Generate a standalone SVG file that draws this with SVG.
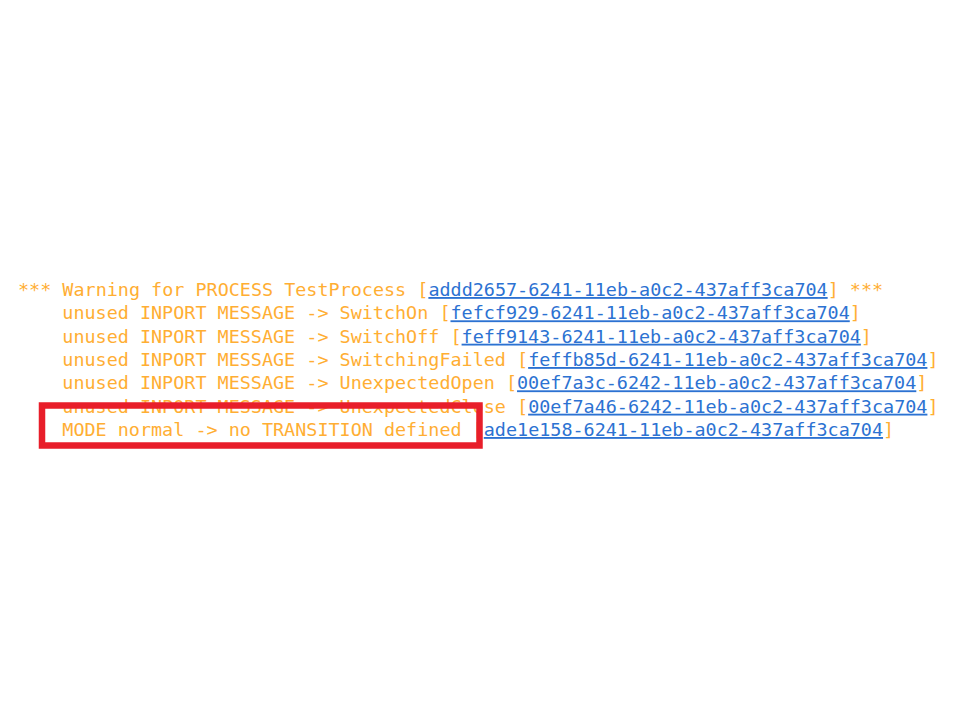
<svg xmlns="http://www.w3.org/2000/svg" width="960" height="720" viewBox="0 0 960 720">
<style>
.t{font-family:"DejaVu Sans Mono","Liberation Mono",monospace;font-size:18.43px;fill:#FFAE33;white-space:pre}
.l{fill:#2C72D2;text-decoration:underline}
</style>
<rect width="960" height="720" fill="#fff"/>
<g id="log">
<text class="t" x="18" y="296" xml:space="preserve">*** Warning for PROCESS TestProcess [<tspan class="l">addd2657-6241-11eb-a0c2-437aff3ca704</tspan>] ***</text>
<text class="t" x="62.3" y="319.3" xml:space="preserve">unused INPORT MESSAGE -&gt; SwitchOn [<tspan class="l">fefcf929-6241-11eb-a0c2-437aff3ca704</tspan>]</text>
<text class="t" x="62.3" y="342.7" xml:space="preserve">unused INPORT MESSAGE -&gt; SwitchOff [<tspan class="l">feff9143-6241-11eb-a0c2-437aff3ca704</tspan>]</text>
<text class="t" x="62.3" y="366" xml:space="preserve">unused INPORT MESSAGE -&gt; SwitchingFailed [<tspan class="l">feffb85d-6241-11eb-a0c2-437aff3ca704</tspan>]</text>
<text class="t" x="62.3" y="389.3" xml:space="preserve">unused INPORT MESSAGE -&gt; UnexpectedOpen [<tspan class="l">00ef7a3c-6242-11eb-a0c2-437aff3ca704</tspan>]</text>
<text class="t" x="62.3" y="412.7" xml:space="preserve">unused INPORT MESSAGE -&gt; UnexpectedClose [<tspan class="l">00ef7a46-6242-11eb-a0c2-437aff3ca704</tspan>]</text>
<text class="t" x="62.3" y="436" xml:space="preserve">MODE normal -&gt; no TRANSITION defined [<tspan class="l">ade1e158-6241-11eb-a0c2-437aff3ca704</tspan>]</text>
</g>
<g id="highlight">
<rect x="42" y="405.5" width="437.5" height="40" fill="none" stroke="#E81E2A" stroke-width="6.5"/>
</g>
</svg>
